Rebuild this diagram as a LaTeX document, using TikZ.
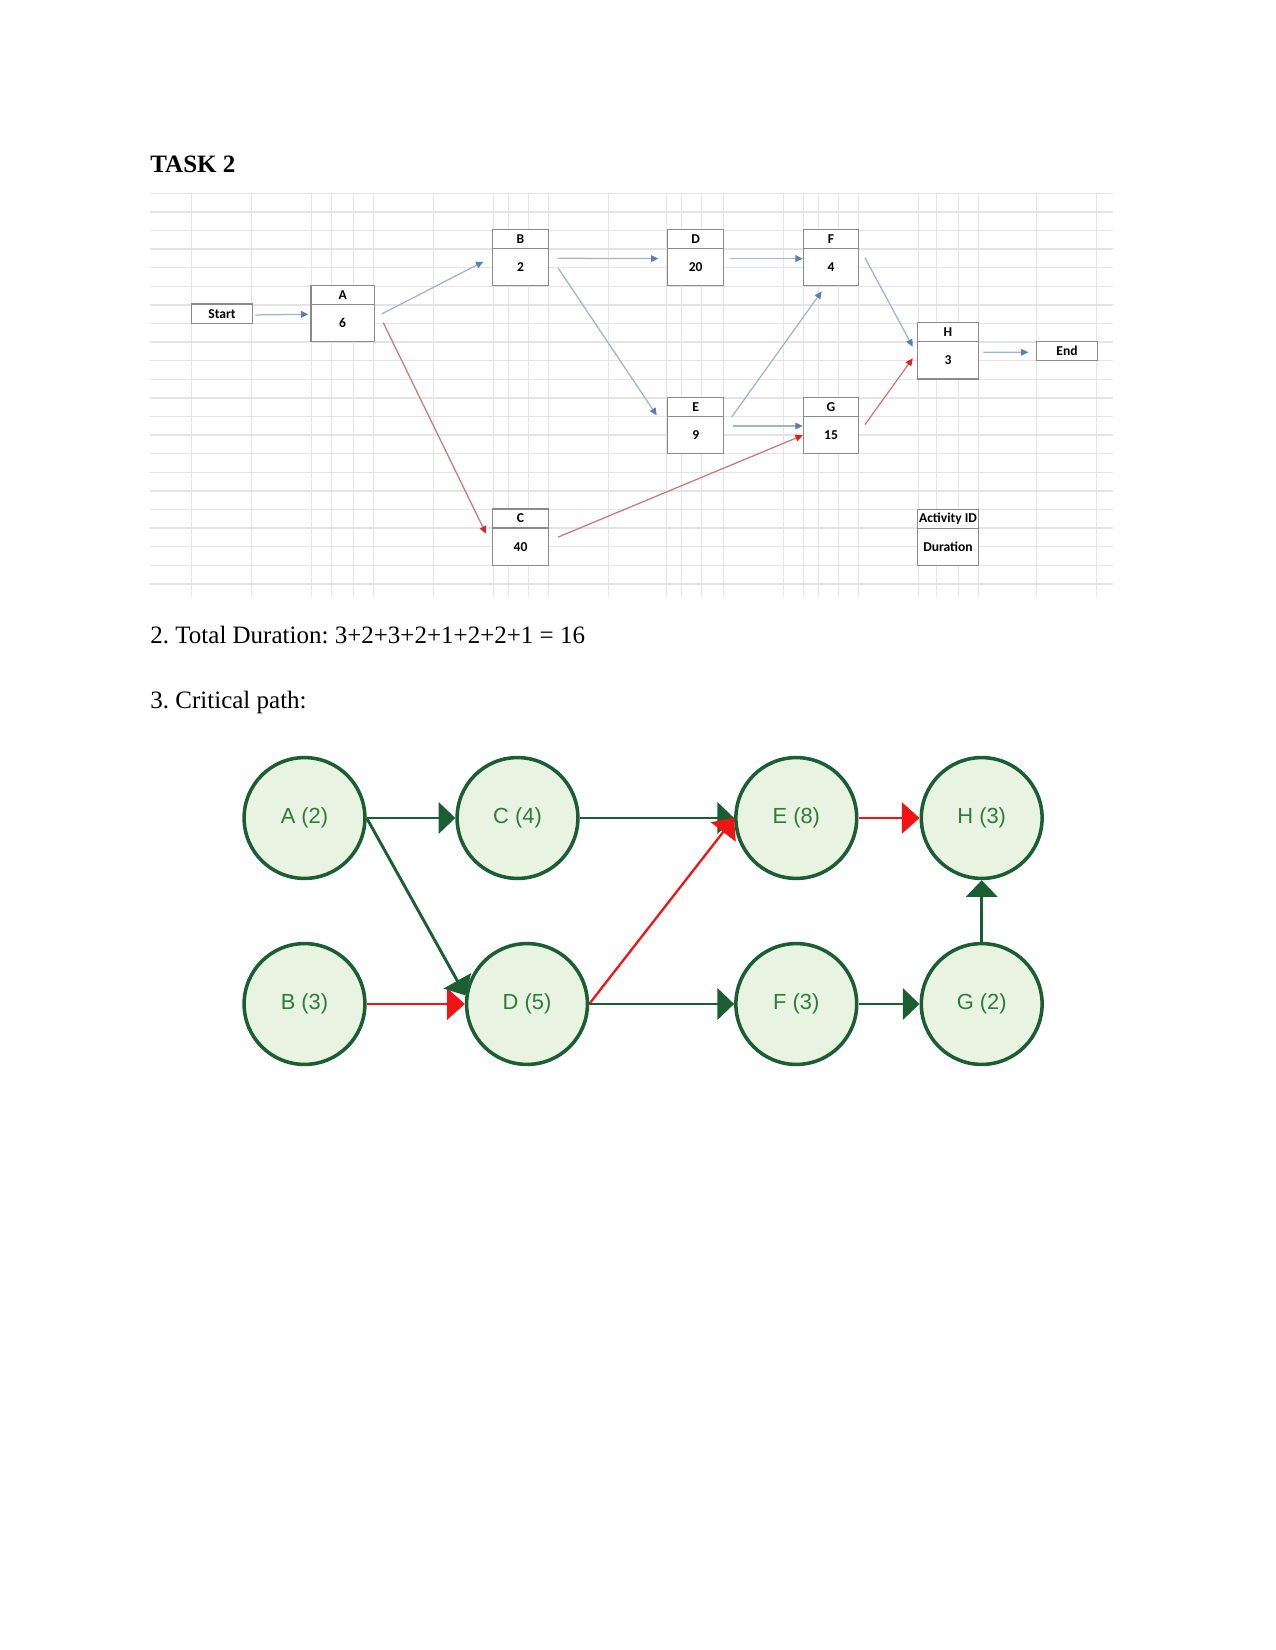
\documentclass[tikz,border=0pt]{standalone}
\usepackage{fontspec}
\setmainfont{Liberation Serif}
\newfontfamily\calfont{Carlito}
\newfontfamily\arialfont{Liberation Sans}
\usetikzlibrary{arrows.meta,calc}
\frenchspacing
\definecolor{gridc}{HTML}{E4E4E4}
\definecolor{boxc}{HTML}{8A8A8A}
\definecolor{blueline}{HTML}{9DB3CF}
\definecolor{bluehead}{HTML}{5B7FB5}
\definecolor{redline}{HTML}{C87878}
\definecolor{redhead}{HTML}{E02020}
\definecolor{cgreen}{HTML}{1B5E34}
\definecolor{cfill}{HTML}{E9F3E2}
\definecolor{ctext}{HTML}{2F7A3F}
\definecolor{cred}{HTML}{F01515}
\newcommand\pertbox[6]{%
  \node[hd,minimum width=#4*0.48pt,anchor=north west] (#1h) at (#2,#3) {#5};
  \node[vl,minimum width=#4*0.48pt,anchor=north] (#1v) at (#1h.south) {#6};}
\begin{document}
\begin{tikzpicture}[x=0.48pt,y=-0.48pt,
  gridline/.style={draw=gridc,line width=0.7pt},
  body/.style={anchor=base west,inner sep=0,font=\fontsize{12pt}{14pt}\selectfont},
  hd/.style={draw=boxc,line width=0.6pt,fill=white,inner sep=0,outer sep=0,minimum height=19*0.48pt,font=\calfont\bfseries\fontsize{6.5pt}{7pt}\selectfont},
  vl/.style={hd,minimum height=37.4*0.48pt},
  tblue/.style={draw=blueline,line width=0.6pt,-{Triangle[length=3.5pt,width=3.2pt,color=bluehead]}},
  tred/.style={draw=redline,line width=0.6pt,-{Triangle[length=3.5pt,width=3.2pt,color=redhead]}},
  act/.style={circle,draw=cgreen,line width=1.7pt,fill=cfill,minimum size=58pt,inner sep=0,text=ctext,font=\arialfont\fontsize{10.5pt}{12pt}\selectfont},
  garrow/.style={draw=cgreen,line width=1.4pt,-{Triangle[length=8pt,width=15pt]}},
  rarrow/.style={draw=cred,line width=1.1pt,-{Triangle[length=8.5pt,width=15pt]}}]
\useasboundingbox (0,0) rectangle (1275,1650);
\fill[white] (0,0) rectangle (1275,1650);
% grid
\foreach \k in {0,...,21} \draw[gridline] (150,{193.3+18.6*\k}) -- (1113,{193.3+18.6*\k});
\foreach \x in {191.7,251.7,311.7,331.7,353.3,373.3,433.3,493.3,508.3,528.3,548.3,608.3,666.7,681.7,701.7,723.3,783.3,803.3,818.3,838.3,858.3,918.3,936.7,958.3,978.3,1036.7,1096.7}
  \draw[gridline] (\x,193) -- (\x,597);
% texts
\node[body,font=\fontsize{12pt}{14pt}\selectfont\bfseries] (title) at (150,173) {TASK 2};
\node[body] (dur) at (150,643.3) {2. Total Duration: 3+2+3+2+1+2+2+1 = 16};
\node[body] (crit) at (150,708.3) {3. Critical path:};
% top network
\node[hd,minimum width=60.6*0.48pt,minimum height=19.3*0.48pt,anchor=north west] (Start) at (191.7,304) {Start};
\node[hd,minimum width=60.6*0.48pt,minimum height=18.6*0.48pt,anchor=north west] (End) at (1036.7,341.7) {End};
\pertbox{A}{311}{285.3}{63.3}{A}{6}
\pertbox{B}{492.3}{229.3}{56.4}{B}{2}
\pertbox{C}{492.3}{509}{56.4}{C}{40}
\pertbox{D}{667.7}{229.3}{56}{D}{20}
\pertbox{E}{667.7}{397.3}{56}{E}{9}
\pertbox{F}{803.3}{229.3}{55.4}{F}{4}
\pertbox{G}{803.3}{397.3}{55.4}{G}{15}
\pertbox{H}{917.7}{322.7}{60.6}{H}{3}
\pertbox{L}{917.7}{509.3}{60.6}{Activity ID}{Duration}
\draw[tblue] ($(Start.east)+(3,1.3)$) -- ($(Av.north west)+(-2.7,10)$);
\draw[tblue] ($(Av.north east)+(7.4,9.7)$) -- ($(Bv.north west)+(-9,13.4)$);
\draw[tred] ($(Av.north east)+(9,18.4)$) -- ($(Cv.north west)+(-6.3,5.6)$);
\draw[tblue] ($(Bv.north east)+(9.6,10)$) -- ($(Dv.north west)+(-9.4,10.3)$);
\draw[tblue] ($(Bv.north east)+(9.6,20)$) -- ($(Ev.north west)+(-11,-1)$);
\draw[tblue] ($(Dv.north east)+(6.3,10.3)$) -- ($(Fv.north west)+(-0.6,10.3)$);
\draw[tblue] ($(Ev.north east)+(8,0.7)$) -- ($(Fv.south west)+(18.4,5.7)$);
\draw[tblue] ($(Ev.north east)+(9.6,9.7)$) -- ($(Gv.north west)+(-0.6,9.7)$);
\draw[tred] ($(Cv.north east)+(9.6,9)$) -- ($(Gv.north west)+(-0.6,19)$);
\draw[tblue] ($(Fv.north east)+(6.3,9.6)$) -- ($(Hv.north west)+(-5,5)$);
\draw[tred] ($(Gv.north east)+(6.3,8.3)$) -- ($(Hv.north west)+(-5,16.6)$);
\draw[tblue] ($(Hv.north east)+(5,10.6)$) -- ($(End.west)+(-8.4,1.3)$);
% critical path network
\node[act] (cA) at (304.5,818) {A (2)};
\node[act] (cC) at (517.5,818) {C (4)};
\node[act] (cE) at (796.3,818) {E (8)};
\node[act] (cH) at (981.7,818) {H (3)};
\node[act] (cB) at (304.5,1004) {B (3)};
\node[act] (cD) at (527,1004) {D (5)};
\node[act] (cF) at (796.3,1004) {F (3)};
\node[act] (cG) at (981.7,1004) {G (2)};
\draw[garrow] (cA.east) -- (cC.west);
\draw[rarrow] (cB.east) -- (cD.west);
\draw[garrow] (cA.east) -- (cD.172);
\draw[garrow] (cC.east) -- (cE.west);
\draw[rarrow] (cD.east) -- (cE.west);
\draw[garrow] (cD.east) -- (cF.west);
\draw[rarrow] (cE.east) -- (cH.west);
\draw[garrow] (cF.east) -- (cG.west);
\draw[garrow] (cG.north) -- (cH.south);
\end{tikzpicture}
\end{document}
